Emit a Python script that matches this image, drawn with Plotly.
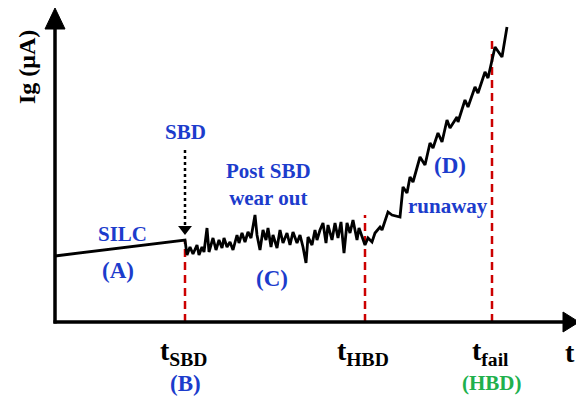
import plotly.graph_objects as go

# ---- data (time units: arbitrary, current units: arbitrary) ----
silc_t = [0, 130]
silc_ig = [66, 82]

wear_t = [130, 132, 135, 138, 142, 144, 147, 149, 152, 154, 158, 161, 164, 167, 169, 172, 175, 178,
          182, 184, 187, 190, 193, 196, 200, 202, 205, 208, 211, 213, 216, 218, 222, 225, 228, 232,
          235, 238, 242, 245, 248, 251, 253, 257, 260, 262, 265, 268, 271, 273, 277, 280, 283, 286,
          289, 292, 295, 298, 302, 304, 307, 310]
wear_ig = [82, 67, 75, 68, 77, 67, 75, 70, 94, 70, 84, 72, 82, 74, 84, 75, 80, 72,
           87, 79, 89, 80, 90, 84, 107, 87, 72, 92, 82, 94, 75, 87, 74, 92, 79, 89,
           77, 90, 79, 87, 75, 59, 85, 77, 92, 82, 92, 99, 79, 97, 82, 99, 84, 100,
           69, 99, 89, 102, 82, 94, 85, 77]

run_t = [310, 313, 317, 320, 325, 327, 333, 337, 345, 348, 352, 355, 358, 365, 370, 375, 378,
         383, 387, 392, 395, 402, 403, 410, 413, 420, 423, 430, 433, 440, 447, 452]
run_ig = [77, 84, 80, 89, 95, 92, 110, 107, 105, 135, 129, 145, 140, 165, 157, 179, 174,
          189, 180, 202, 194, 205, 200, 222, 215, 235, 229, 250, 244, 275, 265, 295]

event_t = [130, 310, 437]
event_top = [82, 107, 282]
event_names = ["SBD", "HBD", "fail"]
event_sub = ["(B)", "", "(HBD)"]

BLUE = "#1c3ccc"
GREEN = "#20b04c"
RED = "#cc0000"
FONT = "Liberation Serif"

fig = go.Figure()

# red dashed event markers
for t, top in zip(event_t, event_top):
    fig.add_trace(go.Scatter(x=[t, t], y=[0, top], mode="lines",
                             line=dict(color=RED, width=2.5, dash="8px,5px"),
                             hoverinfo="skip", showlegend=False))

# current trace
fig.add_trace(go.Scatter(x=silc_t + wear_t[1:] + run_t[1:], y=silc_ig + wear_ig[1:] + run_ig[1:],
                         mode="lines", line=dict(color="black", width=2.8),
                         hoverinfo="skip", showlegend=False))

# SBD dotted arrow
fig.add_trace(go.Scatter(x=[event_t[0], event_t[0]], y=[172, 96], mode="lines",
                         line=dict(color="black", width=2.5, dash="3px,3px"),
                         hoverinfo="skip", showlegend=False))
fig.add_trace(go.Scatter(x=[event_t[0]], y=[93], mode="markers",
                         marker=dict(symbol="triangle-down", size=12, color="black"),
                         hoverinfo="skip", showlegend=False))

shapes = [
    # y axis
    dict(type="line", xref="x", yref="y", x0=0, x1=0, y0=-1.5, y1=295,
         line=dict(color="black", width=3.5)),
    dict(type="path", xref="x", yref="y", path="M -10,293 L 0,314 L 10,293 Z",
         fillcolor="black", line=dict(color="black", width=1)),
    # x axis
    dict(type="line", xref="x", yref="y", x0=-1.5, x1=512, y0=0, y1=0,
         line=dict(color="black", width=3.5)),
    dict(type="path", xref="x", yref="y", path="M 508,10 L 524,0 L 508,-10 Z",
         fillcolor="black", line=dict(color="black", width=1)),
]

def txt(x, y, s, color, size, angle=0):
    return dict(x=x, y=y, xref="x", yref="y", text=s, showarrow=False,
                font=dict(family=FONT, size=size, color=color), textangle=angle,
                xanchor="center", yanchor="middle")

annotations = [
    txt(-28, 255, "<b>Ig (μA)</b>", "black", 24, -90),
    txt(130, 190, "<b>SBD</b>", BLUE, 21),
    txt(67, 88, "<b>SILC</b>", BLUE, 21),
    txt(63, 52, "<b>(A)</b>", BLUE, 23),
    txt(213, 138, "<b>Post SBD<br>wear out</b>", BLUE, 21),
    txt(217, 44, "<b>(C)</b>", BLUE, 23),
    txt(395, 157, "<b>(D)</b>", BLUE, 23),
    txt(393, 116, "<b>runaway</b>", BLUE, 21),
    txt(515, -30, "<b>t</b>", "black", 28),
]
for t, name, sub in zip(event_t, event_names, event_sub):
    annotations.append(txt(t - 2, -30, "<b>t<sub>" + name + "</sub></b>", "black", 28))
    if sub:
        annotations.append(txt(t, -61, "<b>" + sub + "</b>",
                               GREEN if sub == "(HBD)" else BLUE, 21 if sub == "(HBD)" else 23))

fig.update_layout(
    width=576, height=397,
    margin=dict(l=0, r=0, t=0, b=0),
    paper_bgcolor="white", plot_bgcolor="white",
    xaxis=dict(range=[-55, 521], visible=False, fixedrange=True),
    yaxis=dict(range=[-75, 322], visible=False, fixedrange=True),
    shapes=shapes, annotations=annotations, showlegend=False,
)

fig.write_html("out.html", config={"displayModeBar": False},
               post_script="document.body.style.margin='0';document.body.style.overflow='hidden';")
